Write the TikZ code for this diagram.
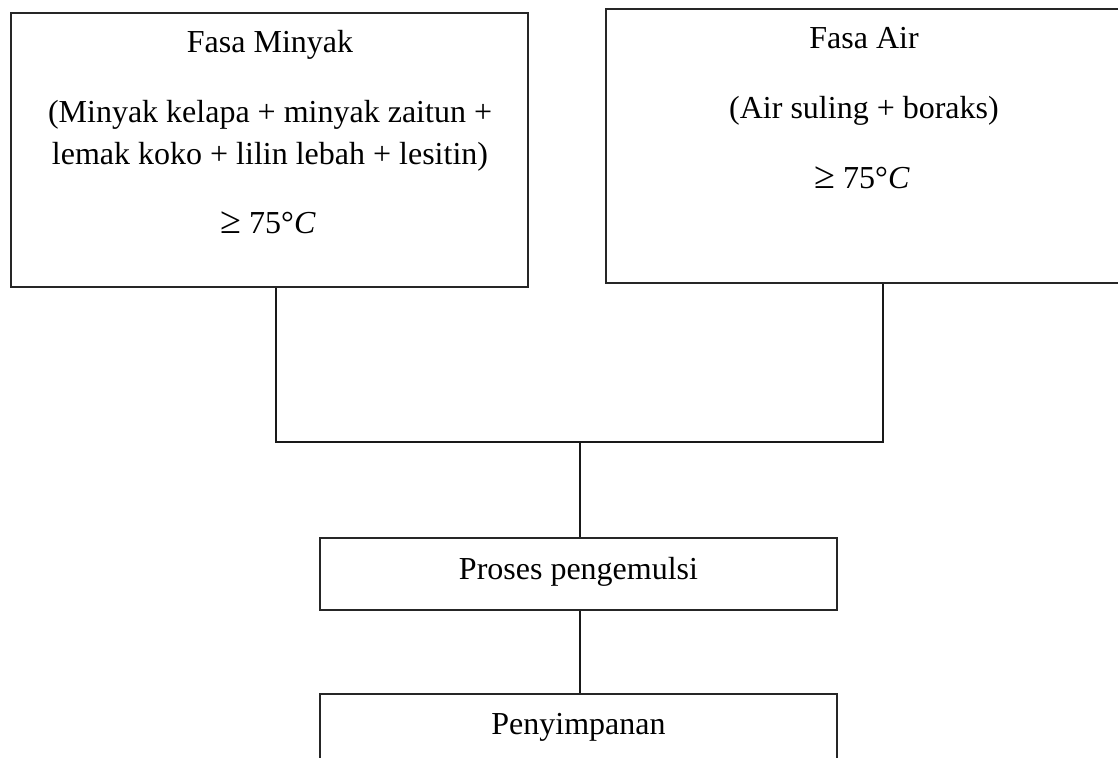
\documentclass[tikz,border=0pt]{standalone}
\usepackage{fontspec}
\setmainfont{Liberation Serif}
\newcommand{\gebig}{{\fontsize{38}{38}\selectfont ≥}}
\begin{document}
\begin{tikzpicture}[x=1pt,y=-1pt,
  boxstyle/.style={draw=black!85,line width=1.3pt,rectangle,inner sep=0pt},
  txt/.style={anchor=base,inner sep=0pt,font=\fontsize{32}{38}\selectfont},
  conn/.style={draw=black!90,line width=1.3pt}]
\useasboundingbox (0,0) rectangle (1118,757);
\clip (0,0) rectangle (1118,757);
\fill[white] (0,0) rectangle (1118,757);
% boxes
\node[boxstyle,minimum width=517pt,minimum height=274pt] (mb) at (269.5,150) {};
\node[boxstyle,minimum width=516pt,minimum height=274pt] (ab) at (864,146) {};
\node[boxstyle,minimum width=517pt,minimum height=72pt] (pp) at (578.5,574) {};
\node[boxstyle,minimum width=517pt,minimum height=72pt] (ps) at (578.5,730) {};
% texts
\node[txt] (m1) at (270,53) {Fasa Minyak};
\node[txt] (m2) at (270,122) {(Minyak kelapa + minyak zaitun +};
\node[txt] (m3) at (270,164) {lemak koko + lilin lebah + lesitin)};
\node[txt] (m4) at (268,233) {\gebig\ 75°\textit{C}};
\node[txt] (a1) at (864,49) {Fasa Air};
\node[txt] (a2) at (864,118) {(Air suling + boraks)};
\node[txt] (a3) at (862,188) {\gebig\ 75°\textit{C}};
\node[txt] (p1) at (578.5,579) {Proses pengemulsi};
\node[txt] (s1) at (578.5,734) {Penyimpanan};
% connectors
\coordinate (jl) at (276,442);
\coordinate (jr) at (883,442);
\coordinate (jm) at (580,442);
\draw[conn] (mb.south -| jl) -- (jl) -- (jr) -- (ab.south -| jr);
\draw[conn] (jm) -- (pp.north -| jm);
\draw[conn] (pp.south -| jm) -- (ps.north -| jm);
\end{tikzpicture}
\end{document}
